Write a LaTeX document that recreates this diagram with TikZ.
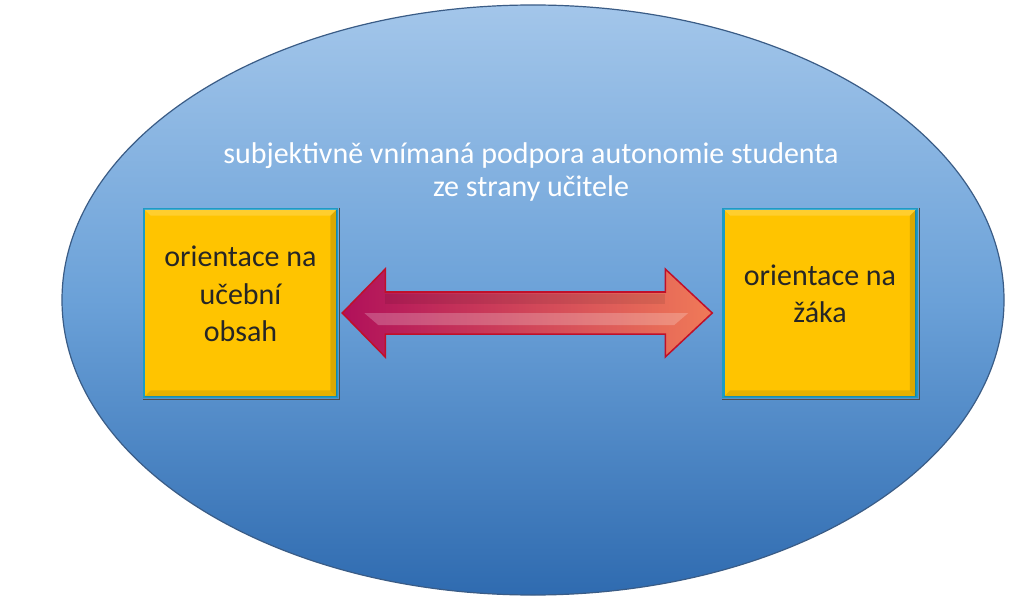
\documentclass[tikz,border=0pt]{standalone}
\usepackage{fontspec}
\setmainfont{Carlito}
\usetikzlibrary{calc,shadings}
\definecolor{ellTop}{HTML}{A3C6EA}
\definecolor{ellMid}{HTML}{6BA1D8}
\definecolor{ellBot}{HTML}{2F6BB0}
\definecolor{ellLine}{HTML}{3A5C86}
\definecolor{boxFill}{HTML}{FFC400}
\definecolor{boxLine}{HTML}{1E9BC4}
\definecolor{txtDark}{HTML}{262626}
\definecolor{arrL}{HTML}{B0105A}
\definecolor{arrR}{HTML}{F07A58}
\definecolor{arrLine}{HTML}{C0102A}
\tikzset{
  yelbox/.style={draw=boxLine, line width=2.5pt, fill=boxFill, minimum width=193pt, minimum height=188pt, inner sep=0pt},
  boxtext/.style={align=center, text=txtDark, inner sep=0pt, font=\fontsize{30}{37.5}\selectfont},
  titletext/.style={text=white, align=center, font=\fontsize{30}{33.5}\selectfont}
}
\begin{document}
\begin{tikzpicture}[x=1pt,y=-1pt]
\useasboundingbox (0,0) rectangle (1024,601);
\fill[white] (0,0) rectangle (1024,601);
% ellipse
\shade[top color=ellTop, bottom color=ellBot, middle color=ellMid] (533,300) ellipse [x radius=471, y radius=295];
\draw[ellLine, line width=1.2pt] (533,300) ellipse [x radius=471, y radius=295];
% title
\node[titletext] (title) at (531,172) {subjektivně vnímaná podpora autonomie studenta\\ze strany učitele};
% boxes
\node[yelbox] (L) at (240.5,303) {};
\node[yelbox] (R) at (820,303) {};
% bevel shading on boxes
\foreach \b in {L,R}{
  \fill[black, opacity=0.14] ($(\b.north east)+(-1.5,1.5)$) -- ($(\b.south east)+(-1.5,-1.5)$) -- ($(\b.south east)+(-8,-8)$) -- ($(\b.north east)+(-8,8)$) -- cycle;
  \fill[black, opacity=0.10] ($(\b.south west)+(1.5,-1.5)$) -- ($(\b.south east)+(-1.5,-1.5)$) -- ($(\b.south east)+(-8,-8)$) -- ($(\b.south west)+(8,-8)$) -- cycle;
  \fill[white, opacity=0.18] ($(\b.north west)+(1.5,1.5)$) -- ($(\b.north east)+(-1.5,1.5)$) -- ($(\b.north east)+(-8,8)$) -- ($(\b.north west)+(8,8)$) -- cycle;
  \draw[black!70, line width=1.2pt] ($(\b.north east)+(1.5,0)$) -- ($(\b.south east)+(1.5,1.5)$) -- ($(\b.south west)+(0,1.5)$);
}
\node[boxtext] (Lt) at ($(L.center)+(0,-9)$) {orientace na\\učební\\obsah};
\node[boxtext] (Rt) at ($(R.center)+(0,-9)$) {orientace na\\žáka};
% double arrow
\coordinate (aL) at ($(L.east)+(4,10)$);
\coordinate (aR) at ($(R.west)+(-10,10)$);
\path[left color=arrL, right color=arrR, draw=arrLine, line width=1.5pt, line join=miter]
  (aL) -- ++(43,-44) -- ++(0,23) -- ($(aR)+(-47,-21)$) -- ++(0,-23) -- (aR) -- ++(-47,44) -- ++(0,-23)
  -- ($(aL)+(43,21)$) -- ++(0,23) -- cycle;
\fill[white, opacity=0.22] ($(aL)+(22,0)$) -- ($(aL)+(43,0)$) -- ($(aR)+(-47,0)$) -- ($(aR)+(-24,0)$) -- ($(aR)+(-38,12)$) -- ($(aL)+(36,12)$) -- cycle;
\fill[black, opacity=0.08] ($(aL)+(43,-19)$) rectangle ($(aR)+(-47,-9)$);
\end{tikzpicture}
\end{document}
